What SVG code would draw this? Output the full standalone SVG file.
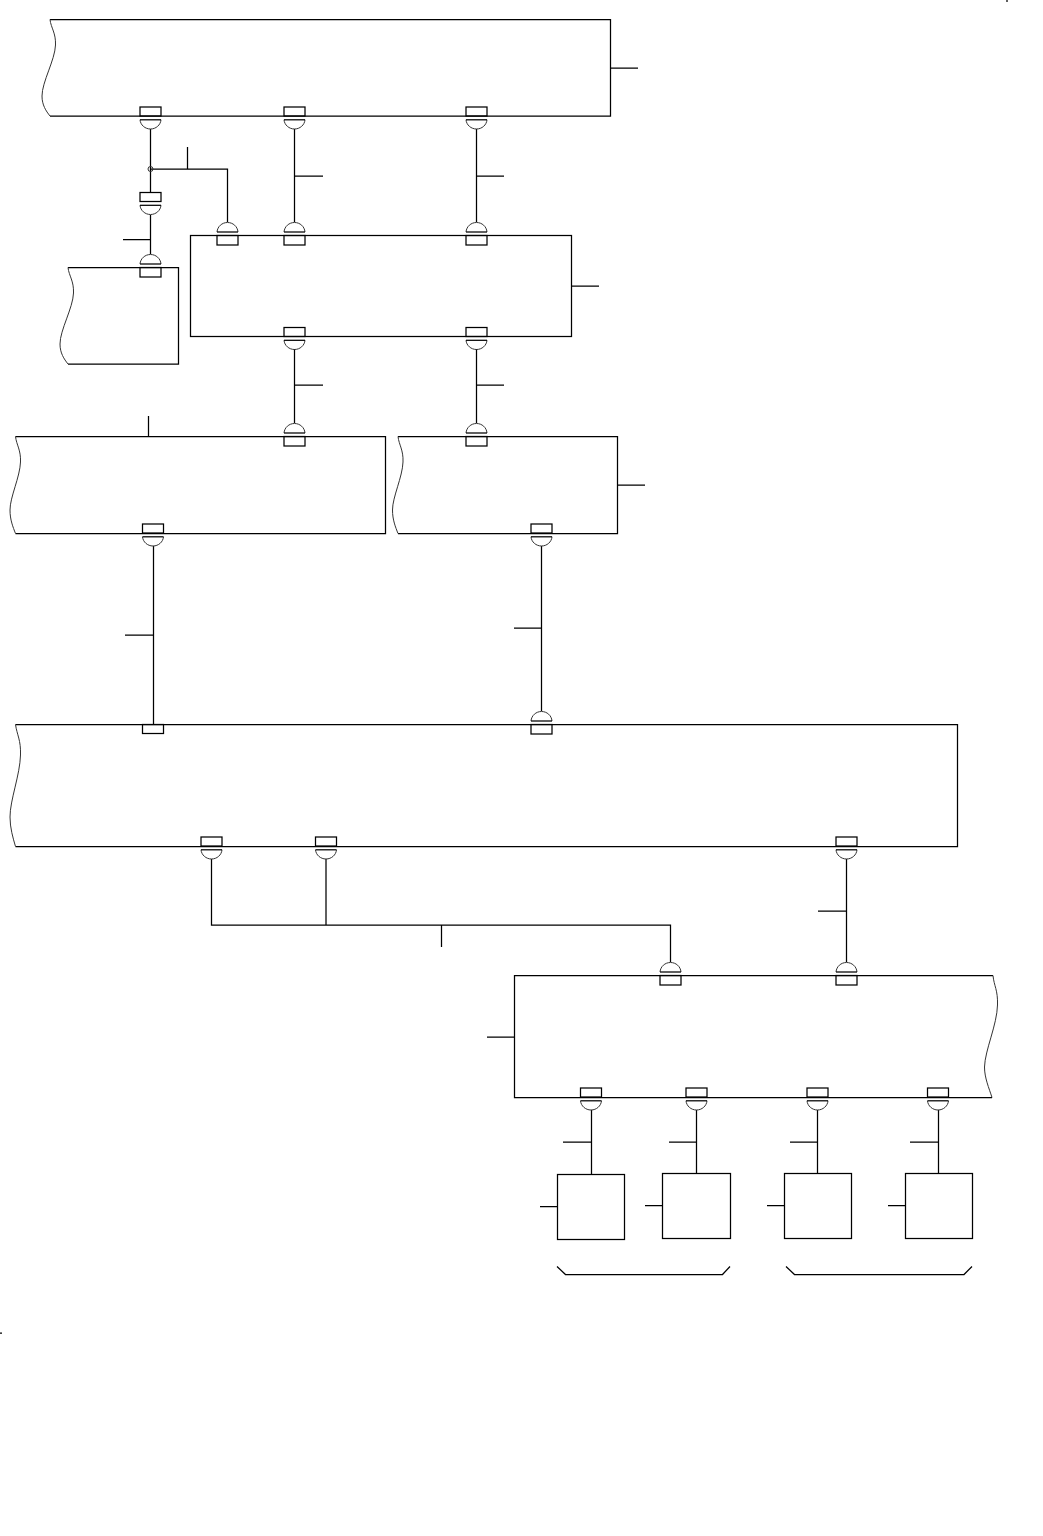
<svg xmlns="http://www.w3.org/2000/svg" width="1043" height="1536" viewBox="0 0 1043 1536">
<style>
.l{fill:none;stroke:#000;stroke-width:1.25}
.w{fill:none;stroke:#333;stroke-width:1}
</style>
<defs>
<g id="pb"><rect class="l" x="-10.5" y="-9" width="21" height="9"/><path class="w" d="M10.500 3.800C10 9 5.500 13 0 13C-5.500 13-10 9-10.500 3.800"/><path class="l" d="M-10.500 3.800H10.500"/></g>
<g id="pt"><rect class="l" x="-10.5" y="0" width="21" height="9.5"/><path class="w" d="M10.500-3.500C10-9 5.500-13 0-13C-5.500-13-10-9-10.500-3.500"/><path class="l" d="M-10.500-3.500H10.500"/></g>
<rect id="ps" class="l" x="-10.5" y="0" width="21" height="9"/>
</defs>
<rect width="1043" height="1536" fill="#fff"/>
<g id="connectors">
<path class="l" d="M150.500 129V192.500M150.500 215V254M150.500 169H227.500V222M187.500 147V169M123 239.500H150.500"/>
<circle class="w" cx="150.500" cy="169" r="2.500"/>
<path class="l" d="M294.500 129V222M294.500 176H323M476.500 129V222M476.500 176H504"/>
<path class="l" d="M294.500 349V423M294.500 385H323M476.500 349V423M476.500 385H504"/>
<path class="l" d="M610.500 68H638M571.500 286H599M617.500 485H645M148.500 416V436.500"/>
<path class="l" d="M153.500 546V724.500M125 635H153.500M541.500 546V711M514 628H541.500"/>
<path class="l" d="M211.500 859V925H670.500V962M326 859V925M441.500 925V947M846.500 859V962M818 911H846.500M487 1037H514.500"/>
<path class="l" d="M591.500 1110V1174.500M563 1142H591.500M696.500 1110V1173.500M669 1142H696.500M817.500 1110V1173.500M790 1142H817.500M938.500 1110V1173.500M910 1142H938.500"/>
<path class="l" d="M540 1206.500H557M645 1205.500H662.500M767 1205.500H784.500M888 1205.500H905.500"/>
<path class="l" d="M1007 0V2M0 1333H2"/>
</g>
<g id="node-1">
<path class="l" d="M50 19.500H610.500V116H50"/>
<path class="w" d="M50 19.500C51 28 56 33 55.500 45C55 60 42 82 42 96C42 105 46 111 50 116"/>
<use href="#pb" x="150.500" y="116"/><use href="#pb" x="294.500" y="116"/><use href="#pb" x="476.500" y="116"/>
</g>
<g id="node-inline"><use href="#pb" x="150.500" y="201.500"/></g>
<g id="node-2">
<rect class="l" x="190.500" y="235.500" width="381" height="101"/>
<use href="#pt" x="227.500" y="235.500"/><use href="#pt" x="294.500" y="235.500"/><use href="#pt" x="476.500" y="235.500"/>
<use href="#pb" x="294.500" y="336.500"/><use href="#pb" x="476.500" y="336.500"/>
</g>
<g id="node-3">
<path class="l" d="M68 267.500H178.500V364H68"/>
<path class="w" d="M68 267.500C69 276 74 281 73.500 293C73 308 60 330 60 344C60 353 64 359 68 364"/>
<use href="#pt" x="150.500" y="267.500"/>
</g>
<g id="node-4">
<path class="l" d="M15.500 436.500H385.500V533.500H15.500"/>
<path class="w" d="M15.500 436.500C16.500 445 21 450 20.500 462C20 477 10 497 10 510C10 520 13 527 15.500 533.500"/>
<use href="#pt" x="294.500" y="436.500"/><use href="#pb" x="153" y="533"/>
</g>
<g id="node-5">
<path class="l" d="M398 436.500H617.500V533.500H398"/>
<path class="w" d="M398 436.500C399 445 403.500 450 403 462C402.500 477 392.500 497 392.500 510C392.500 520 395.500 527 398 533.500"/>
<use href="#pt" x="476.500" y="436.500"/><use href="#pb" x="541.500" y="533"/>
</g>
<g id="node-6">
<path class="l" d="M15.500 724.500H957.500V846.500H15.500"/>
<path class="w" d="M15.500 724.500C17 735 21 740 20.500 755C20 775 10 800 10 817C10 828 13 838 15.500 846.500"/>
<use href="#ps" x="153" y="724.500"/><use href="#pt" x="541.500" y="724.500"/>
<use href="#pb" x="211.500" y="846"/><use href="#pb" x="326" y="846"/><use href="#pb" x="846.500" y="846"/>
</g>
<g id="node-7">
<path class="l" d="M993 975.500H514.500V1097.500H992"/>
<path class="w" d="M993 975.500C994 986 998 990 997.500 1005C997 1025 985 1050 984.500 1067C984.500 1078 989 1088 992 1097.500"/>
<use href="#pt" x="670.500" y="975.500"/><use href="#pt" x="846.500" y="975.500"/>
<use href="#pb" x="591" y="1097"/><use href="#pb" x="696.500" y="1097"/><use href="#pb" x="817.500" y="1097"/><use href="#pb" x="938" y="1097"/>
</g>
<g id="node-8"><rect class="l" x="557.500" y="1174.500" width="67" height="65"/></g>
<g id="node-9"><rect class="l" x="662.500" y="1173.500" width="68" height="65"/></g>
<g id="node-10"><rect class="l" x="784.500" y="1173.500" width="67" height="65"/></g>
<g id="node-11"><rect class="l" x="905.500" y="1173.500" width="67" height="65"/></g>
<g id="brackets">
<path class="l" d="M557 1266.500L565.500 1274.500H722.500L730 1266.500"/>
<path class="l" d="M786 1266.500L794.500 1274.500H964L972 1266.500"/>
</g>
</svg>
